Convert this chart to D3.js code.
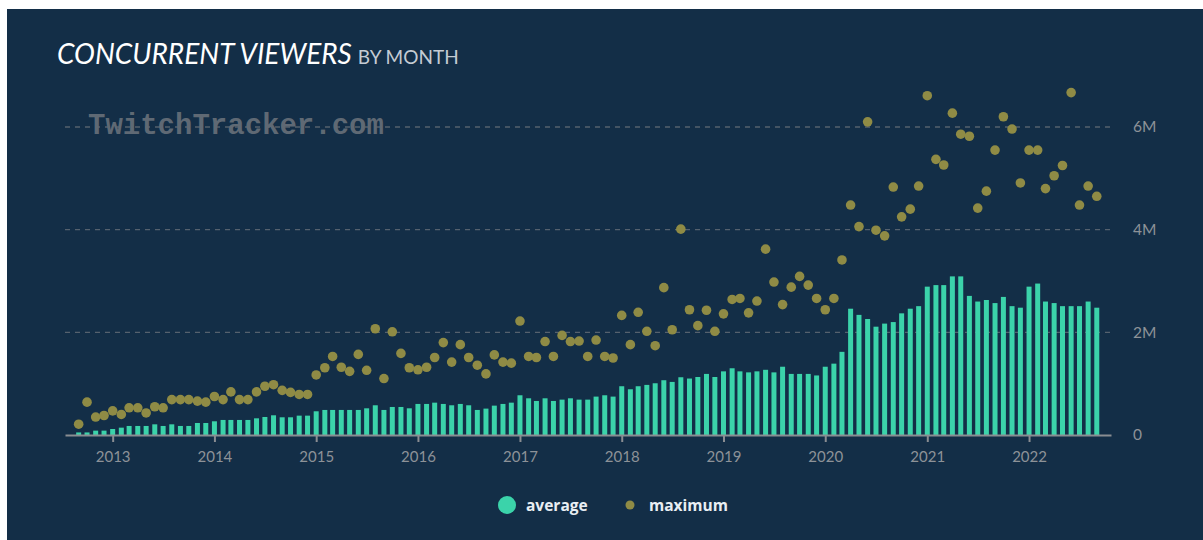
<!DOCTYPE html>
<html>
<head>
<meta charset="utf-8">
<script src="https://cdn.jsdelivr.net/npm/d3@7"></script>
<style>
  body { margin: 0; background: #fff; }
  svg { display: block; }
</style>
</head>
<body>
<script>
// monthly data, Sep 2012 .. Sep 2022, values in millions of viewers
var firstMonth = "2012-09-01";
var yearTicks = ["2013", "2014", "2015", "2016", "2017", "2018", "2019", "2020", "2021", "2022"];
var valueTicks = [0, 2, 4, 6];
var legendLabels = ["average", "maximum"];

var average = [
    0.05, 0.05, 0.085, 0.085,                                                      // 2012
    0.117, 0.143, 0.176, 0.176, 0.176, 0.208, 0.176, 0.208, 0.176, 0.176, 0.234, 0.234, // 2013
    0.267, 0.293, 0.293, 0.293, 0.293, 0.325, 0.351, 0.384, 0.345, 0.345, 0.377, 0.377, // 2014
    0.462, 0.488, 0.488, 0.488, 0.488, 0.488, 0.52, 0.579, 0.488, 0.546, 0.546, 0.52,   // 2015
    0.605, 0.605, 0.63, 0.605, 0.579, 0.605, 0.579, 0.488, 0.514, 0.572, 0.605, 0.63,   // 2016
    0.774, 0.715, 0.663, 0.715, 0.663, 0.689, 0.715, 0.689, 0.689, 0.748, 0.774, 0.748, // 2017
    0.95, 0.891, 0.95, 0.976, 1.008, 1.067, 1.034, 1.125, 1.10, 1.13, 1.19, 1.13,       // 2018
    1.24, 1.30, 1.24, 1.22, 1.24, 1.27, 1.22, 1.33, 1.19, 1.19, 1.19, 1.16,            // 2019
    1.33, 1.39, 1.62, 2.46, 2.34, 2.26, 2.11, 2.17, 2.20, 2.37, 2.46, 2.51,            // 2020
    2.89, 2.92, 2.92, 3.09, 3.09, 2.71, 2.60, 2.63, 2.57, 2.69, 2.51, 2.48,            // 2021
    2.89, 2.95, 2.60, 2.57, 2.51, 2.51, 2.51, 2.60, 2.48                               // 2022
];

var maximum = [
    0.21, 0.64, 0.35, 0.38,
    0.47, 0.40, 0.53, 0.53, 0.43, 0.55, 0.53, 0.69, 0.69, 0.69, 0.66, 0.64,
    0.75, 0.69, 0.84, 0.69, 0.69, 0.84, 0.95, 0.98, 0.87, 0.83, 0.79, 0.79,
    1.17, 1.31, 1.53, 1.32, 1.24, 1.57, 1.26, 2.07, 1.10, 2.01, 1.59, 1.31,
    1.27, 1.32, 1.51, 1.80, 1.42, 1.76, 1.51, 1.36, 1.19, 1.56, 1.42, 1.40,
    2.22, 1.53, 1.51, 1.82, 1.53, 1.94, 1.82, 1.83, 1.53, 1.85, 1.53, 1.50,
    2.33, 1.76, 2.39, 2.02, 1.74, 2.87, 2.05, 4.01, 2.44, 2.13, 2.43, 2.02,
    2.36, 2.64, 2.66, 2.38, 2.61, 3.62, 2.98, 2.54, 2.88, 3.09, 2.92, 2.66,
    2.44, 2.66, 3.41, 4.48, 4.06, 6.10, 3.99, 3.88, 4.83, 4.25, 4.40, 4.85,
    6.61, 5.37, 5.26, 6.27, 5.86, 5.82, 4.42, 4.75, 5.55, 6.20, 5.96, 4.91,
    5.55, 5.55, 4.80, 5.05, 5.25, 6.67, 4.48, 4.85, 4.65
];

var width = 1203;
var height = 540;
var bg = "#132e47";
var teal = "#3bd3aa";
var olive = "#8f8b45";

var start = d3.utcParse("%Y-%m-%d")(firstMonth);
var rows = average.map(function(a, i) {
    return { month: d3.utcMonth.offset(start, i), avg: a, max: maximum[i] };
});

var svg = d3.select("body")
    .append("svg")
    .attr("width", width)
    .attr("height", height);

svg.append("rect")
    .attr("x", 7)
    .attr("y", 9)
    .attr("width", width - 7)
    .attr("height", height - 9)
    .attr("fill", bg);

var x = d3.scaleUtc()
    .domain([new Date(Date.UTC(2012, 6, 14)), new Date(Date.UTC(2022, 9, 22))])
    .range([65, 1111]);

var y = d3.scaleLinear()
    .domain([0, 6])
    .range([435, 127]);

// grid lines
svg.append("g")
    .selectAll("line")
    .data(valueTicks.filter(function(d) { return d > 0; }))
    .enter()
    .append("line")
    .attr("x1", 65)
    .attr("x2", 1111)
    .attr("y1", function(d) { return y(d); })
    .attr("y2", function(d) { return y(d); })
    .attr("stroke", "#55616e")
    .attr("stroke-width", 1.3)
    .attr("stroke-dasharray", "5,5");

svg.append("text")
    .attr("x", 88)
    .attr("y", 134)
    .attr("font-family", "Liberation Mono, monospace")
    .attr("font-weight", "bold")
    .attr("font-size", "29px")
    .attr("fill", "#5f6974")
    .text("TwitchTracker.com");

// title
var title = svg.append("text")
    .attr("x", 57)
    .attr("y", 64)
    .attr("font-family", "Lato, sans-serif");
title.append("tspan")
    .attr("font-size", "28px")
    .attr("font-style", "italic")
    .attr("fill", "#ffffff")
    .text("CONCURRENT VIEWERS");
title.append("tspan")
    .attr("dx", 6)
    .attr("font-size", "19px")
    .attr("fill", "#c4cbd3")
    .text("BY MONTH");

// bars
svg.append("g")
    .selectAll("rect")
    .data(rows)
    .enter()
    .append("rect")
    .attr("x", function(d) { return x(d.month) - 2.5; })
    .attr("width", 5)
    .attr("y", function(d) { return y(d.avg); })
    .attr("height", function(d) { return y(0) - y(d.avg); })
    .attr("fill", teal);

// x axis
var xAxis = d3.axisBottom(x)
    .tickValues(yearTicks.map(function(s) { return d3.utcParse("%Y")(s); }))
    .tickFormat(d3.utcFormat("%Y"))
    .tickSize(7)
    .tickSizeOuter(0)
    .tickPadding(9);

var gx = svg.append("g")
    .attr("transform", "translate(0," + y(0) + ")")
    .call(xAxis);
gx.select(".domain").attr("stroke", "#8a8d92").attr("stroke-width", 2);
gx.selectAll(".tick line").attr("stroke", "#8a8d92").attr("stroke-width", 2);
gx.selectAll(".tick text")
    .attr("fill", "#8d9298")
    .attr("font-family", "Lato, sans-serif")
    .attr("font-size", "15px");

// dots
svg.append("g")
    .selectAll("circle")
    .data(rows)
    .enter()
    .append("circle")
    .attr("cx", function(d) { return x(d.month); })
    .attr("cy", function(d) { return y(d.max); })
    .attr("r", 4.8)
    .attr("fill", olive);

// y axis on the right
var yAxis = d3.axisRight(y)
    .tickValues(valueTicks)
    .tickFormat(function(d) { return d === 0 ? "0" : d + "M"; })
    .tickSize(0)
    .tickPadding(0);
var gy = svg.append("g")
    .attr("transform", "translate(1133,0)")
    .call(yAxis);
gy.select(".domain").remove();
gy.selectAll(".tick text")
    .attr("fill", "#8d9298")
    .attr("font-family", "Lato, sans-serif")
    .attr("font-size", "15.5px");

// legend
var legend = svg.append("g").attr("font-family", "Open Sans, sans-serif");
legend.append("circle").attr("cx", 507).attr("cy", 505).attr("r", 9).attr("fill", teal);
legend.append("text")
    .attr("x", 526).attr("y", 510.5)
    .attr("font-size", "15.5px").attr("font-weight", "bold").attr("fill", "#e9eef3")
    .text(legendLabels[0]);
legend.append("circle").attr("cx", 630).attr("cy", 505).attr("r", 4.5).attr("fill", olive);
legend.append("text")
    .attr("x", 649).attr("y", 510.5)
    .attr("font-size", "15.5px").attr("font-weight", "bold").attr("fill", "#e9eef3")
    .text(legendLabels[1]);
</script>
</body>
</html>
